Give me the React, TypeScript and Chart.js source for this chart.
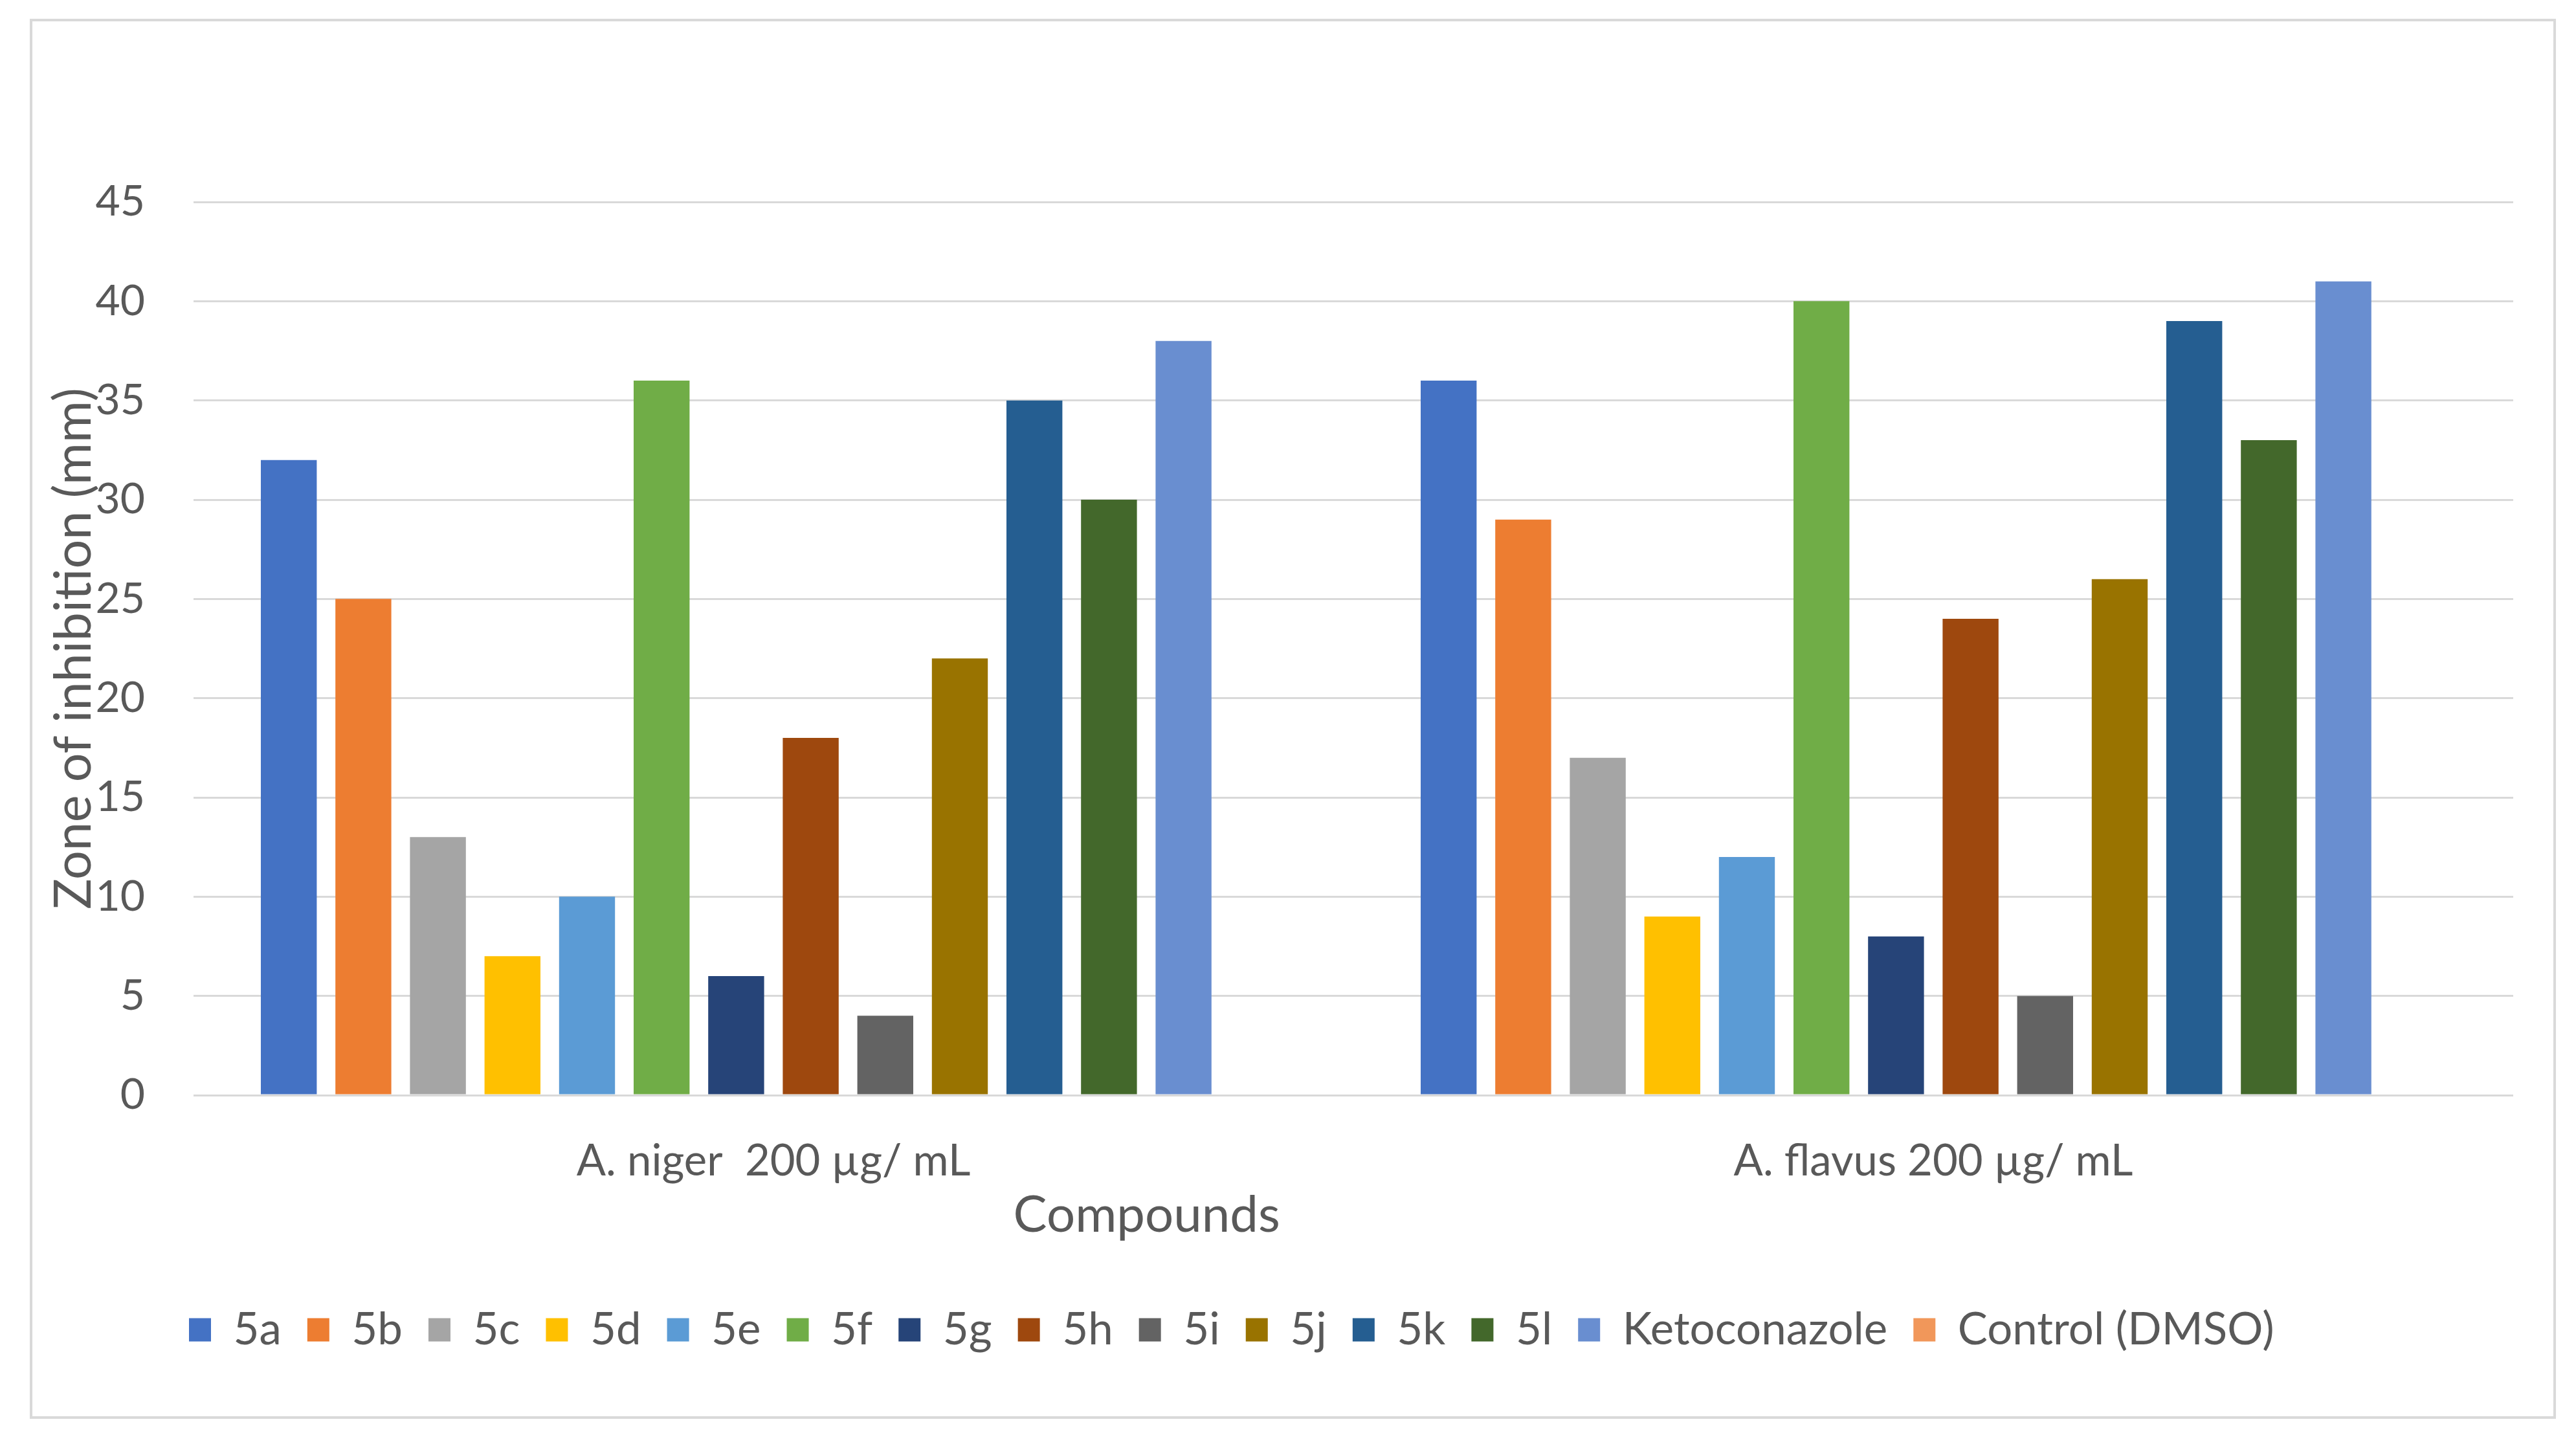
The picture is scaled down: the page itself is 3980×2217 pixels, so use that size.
import React, { useEffect, useRef } from 'react';
import { Chart, registerables } from 'chart.js';

Chart.register(...registerables);

// Test organisms (x-axis categories)
const organisms = ['A. niger  200 µg/ mL', 'A. flavus 200 µg/ mL'];

// Compounds tested (one bar series each)
const compounds = ['5a', '5b', '5c', '5d', '5e', '5f', '5g', '5h', '5i', '5j', '5k', '5l', 'Ketoconazole', 'Control (DMSO)'];

// Zone of inhibition (mm) per compound
const nigerZones = [32, 25, 13, 7, 10, 36, 6, 18, 4, 22, 35, 30, 38, 0];
const flavusZones = [36, 29, 17, 9, 12, 40, 8, 24, 5, 26, 39, 33, 41, 0];

const seriesColors = [
  '#4472C4', '#ED7D31', '#A5A5A5', '#FFC000', '#5B9BD5', '#70AD47',
  '#264478', '#9E480E', '#636363', '#997300', '#255E91', '#43682B',
  '#698ED0', '#F1975A',
];

const yMin = 0;
const yMax = 45;
const yStep = 5;

const yTitle = 'Zone of inhibition (mm)';
const xTitle = 'Compounds';

const W = 3980;
const H = 2217;
const FONT = 'Lato, "Open Sans", "Liberation Sans", sans-serif';
const TEXT = '#595959';
const GRID = '#D9D9D9';

const framePlugin = {
  id: 'frame',
  beforeDraw(chart: any) {
    const { ctx } = chart;
    ctx.save();
    ctx.fillStyle = '#ffffff';
    ctx.fillRect(0, 0, chart.width, chart.height);
    ctx.strokeStyle = GRID;
    ctx.lineWidth = 4;
    ctx.strokeRect(48, 31, 3899, 2159);
    ctx.restore();
  },
};

const legendPlacementPlugin = {
  id: 'legendPlacement',
  afterLayout(chart: any) {
    const lg = chart.legend;
    if (!lg) return;
    const h = lg.height;
    lg.left = 252;
    lg.right = chart.width;
    lg.width = lg.right - lg.left;
    lg.top = 1980;
    lg.bottom = lg.top + h;
  },
};

const axisCaptionPlugin = {
  id: 'axisCaption',
  afterDraw(chart: any) {
    const { ctx, chartArea } = chart;
    ctx.save();
    ctx.fillStyle = TEXT;
    ctx.font = `78px ${FONT}`;
    ctx.textAlign = 'center';
    ctx.textBaseline = 'middle';
    const x = chartArea.left + (chartArea.right - chartArea.left) * 0.4109;
    ctx.fillText(xTitle, x, chartArea.bottom + 186);
    ctx.restore();
  },
};

export default function App() {
  const canvasRef = useRef<HTMLCanvasElement | null>(null);

  useEffect(() => {
    const canvas = canvasRef.current;
    if (!canvas) return;

    const datasets = compounds.map((name, i) => ({
      label: name,
      data: [nigerZones[i], flavusZones[i]],
      backgroundColor: seriesColors[i],
      borderWidth: 0,
      categoryPercentage: 0.9,
      barPercentage: 0.75,
    }));

    const chart = new Chart(canvas, {
      type: 'bar',
      data: { labels: organisms, datasets },
      plugins: [framePlugin, legendPlacementPlugin, axisCaptionPlugin],
      options: {
        responsive: false,
        animation: false,
        devicePixelRatio: 1,
        layout: { padding: { top: 312, left: 75, right: 97, bottom: 223 } },
        scales: {
          x: {
            grid: { display: false, drawTicks: false },
            border: { display: false },
            ticks: { color: TEXT, font: { family: FONT, size: 67 }, padding: 62, maxRotation: 0 },
            afterFit: (scale: any) => { scale.height = 183; },
          },
          y: {
            min: yMin,
            max: yMax,
            ticks: { stepSize: yStep, color: TEXT, font: { family: FONT, size: 66 }, padding: 75 },
            grid: { color: GRID, lineWidth: 3, drawTicks: false },
            border: { display: false },
            title: {
              display: true,
              text: yTitle,
              color: TEXT,
              font: { family: FONT, size: 79, lineHeight: 1 },
              padding: { top: 0, bottom: 0 },
            },
            afterFit: (scale: any) => { scale.width = 224; },
          },
        },
        plugins: {
          legend: {
            position: 'bottom',
            align: 'start',
            labels: {
              color: TEXT,
              font: { family: FONT, size: 69 },
              boxWidth: 34,
              boxHeight: 36,
              padding: 40,
            },
          },
          tooltip: { enabled: false },
        },
      },
    });

    return () => chart.destroy();
  }, []);

  return (
    <div style={{ position: 'absolute', left: 0, top: 0, width: W, height: H, background: '#fff' }}>
      <canvas ref={canvasRef} width={W} height={H} style={{ width: W, height: H, display: 'block' }} />
    </div>
  );
}
